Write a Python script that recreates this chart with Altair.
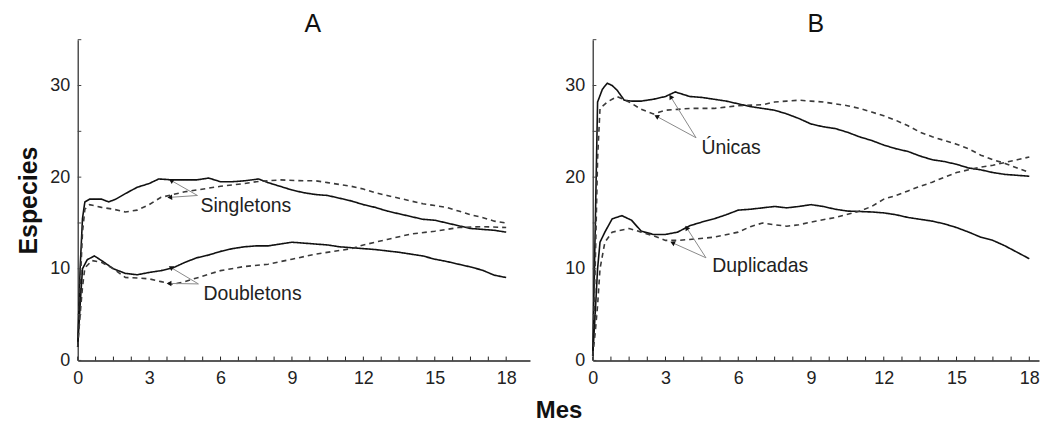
import math
import altair as alt
import pandas as pd

# ---------------- data ----------------
# Panel A — Singletons (solid = observed, dashed = second series)
a_sing_solid_m = [0, 0.1, 0.2, 0.3, 0.5, 0.8, 1.0, 1.3, 1.6, 2.0, 2.5, 3.0, 3.4, 4.0, 4.5, 5.0, 5.5, 6.0, 6.5, 7.0, 7.6, 8.0, 8.5, 9.0, 9.5, 10.0, 10.5, 11.0, 11.5, 12.0, 12.5, 13.0, 13.5, 14.0, 14.5, 15.0, 15.5, 16.0, 16.5, 17.0, 17.5, 18.0]
a_sing_solid_v = [1.5, 10, 15.5, 17.3, 17.6, 17.6, 17.6, 17.3, 17.6, 18.2, 18.9, 19.3, 19.8, 19.7, 19.7, 19.7, 19.9, 19.5, 19.5, 19.6, 19.8, 19.4, 19.0, 18.6, 18.3, 18.1, 18.0, 17.7, 17.4, 17.0, 16.7, 16.3, 16.0, 15.7, 15.4, 15.3, 15.0, 14.7, 14.4, 14.3, 14.2, 14.0]
a_sing_dash_m = [0, 0.1, 0.2, 0.3, 0.5, 1.0, 1.5, 2.0, 2.5, 3.0, 3.5, 4.0, 4.5, 5.0, 6.0, 7.0, 7.5, 8.5, 9.5, 10.0, 10.5, 11.0, 11.5, 12.0, 12.5, 13.0, 13.5, 14.0, 14.5, 15.0, 15.5, 16.0, 16.5, 17.0, 17.5, 18.0]
a_sing_dash_v = [1.5, 8, 14, 16.5, 17.0, 16.7, 16.5, 16.2, 16.4, 17.0, 17.8, 18.1, 18.4, 18.6, 19.0, 19.3, 19.5, 19.7, 19.6, 19.6, 19.4, 19.2, 19.0, 18.7, 18.3, 18.0, 17.7, 17.4, 17.1, 16.9, 16.7, 16.3, 15.9, 15.6, 15.2, 15.0]
# Panel A — Doubletons
a_doub_solid_m = [0, 0.1, 0.2, 0.4, 0.7, 1.0, 1.5, 2.0, 2.5, 3.0, 3.5, 4.0, 4.5, 5.0, 5.5, 6.0, 6.5, 7.0, 7.5, 8.0, 8.5, 9.0, 9.5, 10.0, 10.5, 11.0, 11.5, 12.0, 12.5, 13.0, 13.5, 14.0, 14.5, 15.0, 15.5, 16.0, 16.5, 17.0, 17.5, 18.0]
a_doub_solid_v = [1.5, 6, 10, 11.0, 11.4, 10.9, 10.0, 9.5, 9.35, 9.6, 9.8, 10.1, 10.7, 11.2, 11.5, 11.9, 12.2, 12.4, 12.5, 12.5, 12.7, 12.9, 12.8, 12.7, 12.6, 12.4, 12.3, 12.2, 12.1, 11.95, 11.8, 11.6, 11.4, 11.05, 10.8, 10.5, 10.2, 9.85, 9.3, 9.05]
a_doub_dash_m = [0, 0.1, 0.2, 0.3, 0.6, 1.0, 1.5, 2.0, 2.5, 3.0, 3.5, 4.0, 4.5, 5.0, 5.5, 6.0, 7.0, 8.0, 9.0, 10.0, 11.0, 11.5, 12.0, 13.0, 14.0, 15.0, 16.0, 17.0, 18.0]
a_doub_dash_v = [1.5, 5, 8, 10.1, 10.9, 10.7, 10.0, 9.05, 9.0, 8.9, 8.6, 8.3, 8.6, 9.0, 9.4, 9.8, 10.25, 10.5, 11.05, 11.6, 12.0, 12.2, 12.6, 13.2, 13.8, 14.1, 14.5, 14.6, 14.5]

# Panel B — Únicas
b_uni_solid_m = [0, 0.1, 0.2, 0.4, 0.6, 0.8, 1.0, 1.3, 1.6, 2.0, 2.5, 3.0, 3.4, 4.0, 4.5, 5.0, 5.5, 6.0, 6.5, 7.0, 7.5, 8.0, 8.5, 9.0, 9.5, 10.0, 10.5, 11.0, 11.5, 12.0, 12.5, 13.0, 13.5, 14.0, 14.5, 15.0, 15.5, 16.0, 16.5, 17.0, 17.5, 18.0]
b_uni_solid_v = [0.5, 14, 28.2, 29.6, 30.25, 30.0, 29.5, 28.4, 28.3, 28.3, 28.5, 28.8, 29.3, 28.8, 28.7, 28.5, 28.3, 28.0, 27.7, 27.5, 27.3, 26.9, 26.4, 25.8, 25.5, 25.3, 24.9, 24.4, 24.0, 23.5, 23.1, 22.8, 22.3, 21.9, 21.7, 21.4, 21.0, 20.8, 20.5, 20.3, 20.2, 20.1]
b_uni_dash_m = [0, 0.1, 0.2, 0.3, 0.6, 1.0, 1.5, 2.0, 2.5, 3.0, 3.5, 4.0, 5.0, 6.0, 7.0, 7.5, 8.0, 8.5, 9.0, 9.5, 10.0, 10.5, 11.0, 11.5, 12.0, 12.5, 13.0, 13.5, 14.0, 14.5, 15.0, 15.5, 16.0, 16.5, 17.0, 17.5, 18.0]
b_uni_dash_v = [0.5, 10, 22, 27.5, 28.2, 28.8, 28.2, 27.4, 26.9, 27.3, 27.4, 27.5, 27.5, 27.8, 27.9, 28.2, 28.3, 28.4, 28.3, 28.2, 28.0, 27.8, 27.5, 27.1, 26.7, 26.2, 25.6, 24.9, 24.4, 24.0, 23.6, 23.1, 22.4, 21.9, 21.5, 21.0, 20.5]
# Panel B — Duplicadas
b_dup_solid_m = [0, 0.1, 0.2, 0.3, 0.5, 0.8, 1.2, 1.6, 2.0, 2.5, 3.0, 3.5, 4.0, 4.5, 5.0, 5.5, 6.0, 6.5, 7.0, 7.5, 8.0, 8.5, 9.0, 9.5, 10.0, 10.5, 11.0, 11.5, 12.0, 12.5, 13.0, 13.5, 14.0, 14.5, 15.0, 15.5, 16.0, 16.5, 17.0, 17.5, 18.0]
b_dup_solid_v = [0.5, 5, 10, 12.9, 14.0, 15.45, 15.8, 15.3, 14.1, 13.75, 13.75, 14.0, 14.7, 15.1, 15.45, 15.9, 16.4, 16.5, 16.65, 16.8, 16.65, 16.8, 17.0, 16.8, 16.5, 16.3, 16.25, 16.2, 16.1, 15.9, 15.6, 15.4, 15.2, 14.9, 14.5, 14.0, 13.45, 13.1, 12.5, 11.8, 11.1]
b_dup_dash_m = [0, 0.1, 0.2, 0.3, 0.5, 0.8, 1.5, 2.0, 2.5, 3.0, 3.5, 4.0, 5.0, 6.0, 6.5, 7.0, 7.5, 8.0, 8.5, 9.0, 10.0, 11.0, 11.5, 12.0, 12.5, 13.0, 13.5, 14.0, 14.5, 15.0, 15.5, 16.0, 16.5, 17.0, 17.5, 18.0]
b_dup_dash_v = [0.5, 3, 6, 10.0, 12.9, 14.0, 14.4, 14.0, 13.6, 13.1, 13.1, 13.2, 13.45, 14.0, 14.6, 15.0, 14.8, 14.65, 14.8, 15.1, 15.6, 16.3, 16.8, 17.6, 18.0, 18.5, 19.0, 19.45, 20.0, 20.5, 20.8, 21.1, 21.3, 21.6, 21.9, 22.2]

# Annotation labels and arrow anchors (data units)
a_labels = ["Singletons", "Doubletons"]
a_label_m = [5.16, 5.28]
a_label_v = [16.85, 7.2]
a_arrow_sm = [5.03, 5.03, 5.07, 5.07]
a_arrow_sv = [18.0, 18.0, 8.35, 8.35]
a_arrow_tm = [3.95, 3.9, 3.94, 3.87]
a_arrow_tv = [19.6, 17.8, 10.1, 8.4]

b_labels = ["Únicas", "Duplicadas"]
b_label_m = [4.48, 4.93]
b_label_v = [23.2, 10.3]
b_arrow_sm = [4.26, 4.26, 4.67, 4.67]
b_arrow_sv = [24.3, 24.3, 11.2, 11.2]
b_arrow_tm = [3.23, 2.66, 3.89, 3.32]
b_arrow_tv = [28.7, 26.6, 14.4, 12.8]

x_label_vals = [0, 3, 6, 9, 12, 15, 18]
y_label_vals = [0, 10, 20, 30]
x_tick_vals = [i * 0.75 for i in range(25)]
y_tick_vals = [0, 5, 10, 15, 20, 25, 30, 35]

Y_MAX = 35
PLOT_H = 322
FONT = "Liberation Sans"


def series_df(pairs):
    rows = []
    for name, style, ms, vs in pairs:
        for m, v in zip(ms, vs):
            rows.append({"series": name, "style": style, "month": m, "value": v})
    return pd.DataFrame(rows)


def panel(letter, pairs, labels, lm, lv, asm, asv, atm, atv, x_max, width, title_dx, show_ytitle):
    df = series_df(pairs)
    pxm = width / x_max
    pxv = PLOT_H / Y_MAX
    angles = []
    for sx, sy, tx, ty in zip(asm, asv, atm, atv):
        dx = (tx - sx) * pxm
        dy = -(ty - sy) * pxv
        angles.append(math.degrees(math.atan2(dx, -dy)) % 360)
    arrows = pd.DataFrame({"sx": asm, "sy": asv, "tx": atm, "ty": atv, "ang": angles})
    texts = pd.DataFrame({"m": lm, "v": lv, "t": labels})
    xt = pd.DataFrame({"t": x_tick_vals})
    yt = pd.DataFrame({"t": y_tick_vals})

    xscale = alt.Scale(domain=[0, x_max], nice=False, zero=False)
    yscale = alt.Scale(domain=[0, Y_MAX], nice=False, zero=False)
    yaxis_kw = dict(values=y_label_vals, ticks=False, grid=False, labelPadding=8,
                    labelFontSize=18, labelColor="#222", domainColor="#444", domainWidth=1.4,
                    labelFont=FONT)
    if show_ytitle:
        yaxis_kw.update(title="Especies", titleFontSize=25, titleFontWeight="bold",
                        titleColor="#111", titlePadding=8, titleFont=FONT)
    else:
        yaxis_kw.update(title=None)

    lines = alt.Chart(df).mark_line(strokeWidth=1.6).encode(
        x=alt.X("month:Q", scale=xscale,
                axis=alt.Axis(values=x_label_vals, ticks=False, grid=False, labelPadding=9,
                              labelFontSize=18, labelColor="#222", domainColor="#222",
                              domainWidth=1.4, title=None, labelFont=FONT, labelFlush=False)),
        y=alt.Y("value:Q", scale=yscale, axis=alt.Axis(**yaxis_kw)),
        detail="series:N",
        color=alt.Color("style:N", scale=alt.Scale(domain=["solid", "dashed"], range=["#111111", "#3a3a3a"]), legend=None),
        strokeDash=alt.StrokeDash("style:N", scale=alt.Scale(domain=["solid", "dashed"], range=[[1, 0], [5, 4]]), legend=None),
        order=alt.Order("month:Q"),
    )
    xticks = alt.Chart(xt).mark_rule(color="#222", strokeWidth=1).encode(
        x="t:Q", y=alt.datum(0), y2=alt.datum(0.42))
    yticks = alt.Chart(yt).mark_rule(color="#444", strokeWidth=1).encode(
        y="t:Q", x=alt.datum(0), x2=alt.datum(0.15))
    arrow_lines = alt.Chart(arrows).mark_rule(color="#8a8a8a", strokeWidth=1).encode(
        x="sx:Q", y="sy:Q", x2="tx:Q", y2="ty:Q")
    arrow_heads = alt.Chart(arrows).mark_point(shape="triangle", filled=True, color="#111", size=30, opacity=1).encode(
        x="tx:Q", y="ty:Q", angle=alt.Angle("ang:Q", scale=None))
    text = alt.Chart(texts).mark_text(align="left", baseline="middle", fontSize=19.5, font=FONT, color="#222").encode(
        x="m:Q", y="v:Q", text="t:N")

    return alt.layer(lines, xticks, yticks, arrow_lines, arrow_heads, text).properties(
        width=width, height=PLOT_H,
        title=alt.TitleParams(letter, fontSize=25, fontWeight="normal", font=FONT, color="#111",
                              anchor="middle", offset=2, dx=title_dx),
    )


pa = panel("A",
           [("sing_s", "solid", a_sing_solid_m, a_sing_solid_v),
            ("sing_d", "dashed", a_sing_dash_m, a_sing_dash_v),
            ("doub_s", "solid", a_doub_solid_m, a_doub_solid_v),
            ("doub_d", "dashed", a_doub_dash_m, a_doub_dash_v)],
           a_labels, a_label_m, a_label_v, a_arrow_sm, a_arrow_sv, a_arrow_tm, a_arrow_tv,
           19.0, 454, 9, True)
pb = panel("B",
           [("uni_s", "solid", b_uni_solid_m, b_uni_solid_v),
            ("uni_d", "dashed", b_uni_dash_m, b_uni_dash_v),
            ("dup_s", "solid", b_dup_solid_m, b_dup_solid_v),
            ("dup_d", "dashed", b_dup_dash_m, b_dup_dash_v)],
           b_labels, b_label_m, b_label_v, b_arrow_sm, b_arrow_sv, b_arrow_tm, b_arrow_tv,
           18.4, 448, 0, False)

chart = alt.hconcat(pa, pb, spacing=34).properties(
    title=alt.TitleParams("Mes", orient="bottom", anchor="middle", fontSize=24, fontWeight="bold",
                          font=FONT, color="#111", offset=12, dx=31),
    padding={"left": 8, "top": 3, "right": 0, "bottom": 0},
).configure_view(stroke=None)

chart.save("out.html", embed_options={"renderer": "svg", "actions": False})
